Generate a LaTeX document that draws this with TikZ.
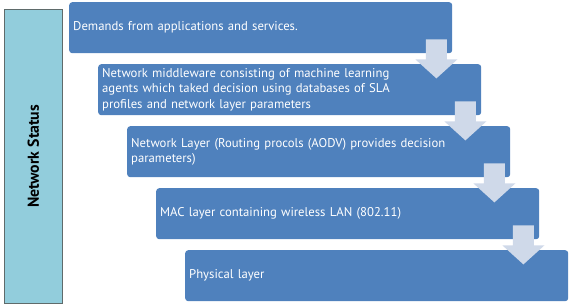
\documentclass[tikz,border=0pt]{standalone}
\usepackage{fontspec}
\setmainfont{PT Sans}
\usetikzlibrary{calc}
\definecolor{layerblue}{HTML}{4F81BD}
\definecolor{statusfill}{HTML}{92CDDC}
\definecolor{statusline}{HTML}{5F6B6B}
\definecolor{flowfill}{HTML}{CFD9E9}
\tikzset{
  layerbox/.style={rectangle, rounded corners=3pt, fill=layerblue, text=white,
    anchor=north west, text width=375pt, inner xsep=4pt, inner ysep=0pt,
    minimum height=51pt, align=left, font=\fontsize{12.7}{15.5}\selectfont},
  statusbox/.style={rectangle, fill=statusfill, draw=statusline, line width=0.9pt,
    anchor=north west, minimum width=58pt, minimum height=294pt, inner sep=0pt},
  flowarrow/.style={fill=flowfill}
}
\begin{document}
\begin{tikzpicture}[x=1pt, y=-1pt]
  \useasboundingbox (0,0) rectangle (573,307);

  % status column on the left
  \node[statusbox] (status) at (4,9) {};
  \node[rotate=90, font=\bfseries\fontsize{15.8}{18}\selectfont] (statuslabel) at (status.center) {Network Status};

  % stacked layers, each shifted right and down
  \node[layerbox] (b1) at (69,2)   {Demands from applications and services.};
  \node[layerbox] (b2) at (98,64)  {Network middleware consisting of machine learning\\agents which taked decision using databases of SLA\\profiles and network layer parameters};
  \node[layerbox] (b3) at (127,126) {Network Layer (Routing procols (AODV) provides decision\\parameters)};
  \node[layerbox] (b4) at (156,188) {MAC layer containing wireless LAN (802.11)};
  \node[layerbox] (b5) at (185,250) {Physical layer};

  % downward flow arrows between consecutive layers
  \foreach \a/\b in {b1/b2, b2/b3, b3/b4, b4/b5}{
    \fill[flowarrow] ($(\a.south east)+(-16,-14)$) ++(-10.5,0) -- ++(21,0) -- ++(0,20)
      -- ++(10.5,0) -- ++(-21,19) -- ++(-21,-19) -- ++(10.5,0) -- cycle;
  }
\end{tikzpicture}
\end{document}
